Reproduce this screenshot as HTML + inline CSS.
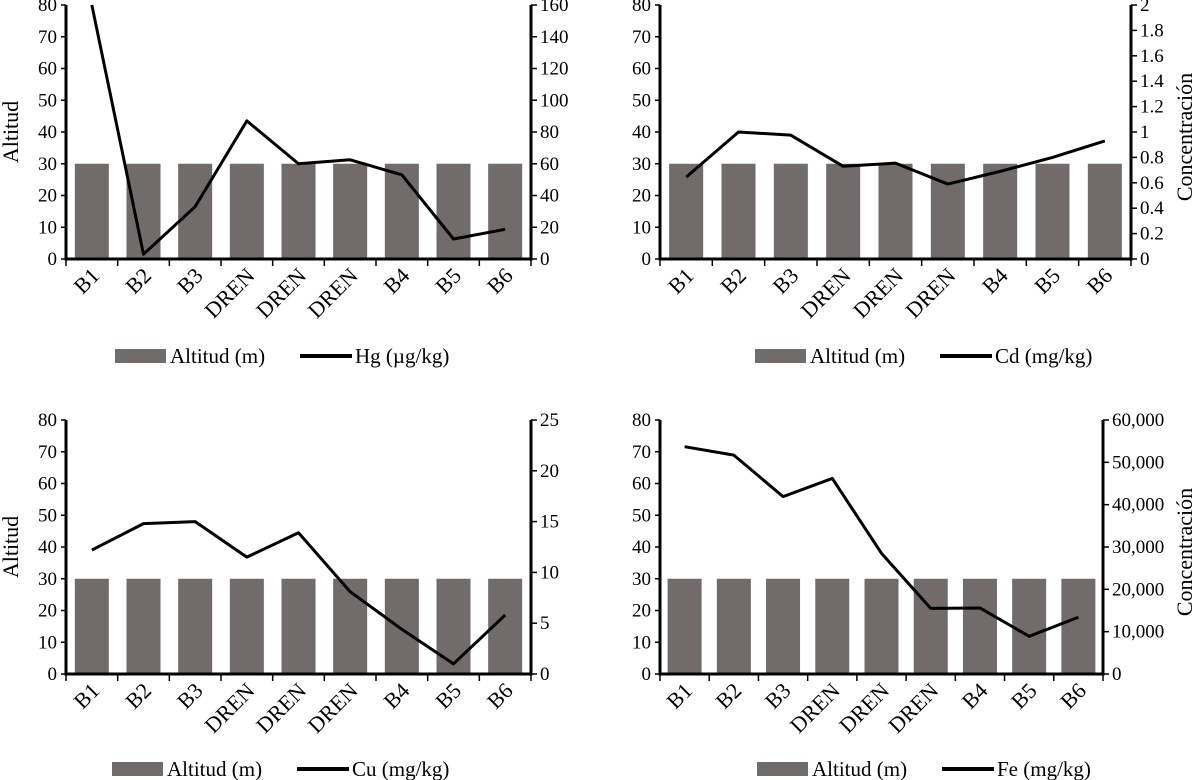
<!DOCTYPE html>
<html><head><meta charset="utf-8"><style>
html,body{margin:0;padding:0;background:#fff;}
svg{display:block;font-family:"Liberation Serif",serif;}
</style></head><body>
<svg id="root" width="1199" height="780" viewBox="0 0 1199 780"></svg>
<script>
const categories = ["B1","B2","B3","DREN","DREN","DREN","B4","B5","B6"];
const altitude = [30,30,30,30,30,30,30,30,30];
const hgValues = [160,3,33,87,60,62.5,53,12.6,18.7];
const cdValues = [0.645,1.0,0.975,0.73,0.755,0.59,0.69,0.8,0.93];
const cuValues = [12.2,14.8,15.0,11.5,13.9,8.1,4.4,1.0,5.8];
const feValues = [53700,51700,41900,46200,28500,15500,15600,8900,13400];
const leftTicks = [0,10,20,30,40,50,60,70,80];
const hgTicks = [0,20,40,60,80,100,120,140,160];
const cdTicks = [0,0.2,0.4,0.6,0.8,1,1.2,1.4,1.6,1.8,2];
const cdTickLabels = ["0","0.2","0.4","0.6","0.8","1","1.2","1.4","1.6","1.8","2"];
const cuTicks = [0,5,10,15,20,25];
const feTicks = [0,10000,20000,30000,40000,50000,60000];
const feTickLabels = ["0","10,000","20,000","30,000","40,000","50,000","60,000"];

const NS="http://www.w3.org/2000/svg";
const root=document.getElementById('root');
function mk(tag,attrs,parent){const e=document.createElementNS(NS,tag);for(const k in attrs)e.setAttribute(k,attrs[k]);(parent||root).appendChild(e);return e;}

function drawChart(cfg){
  const g=mk('g',{});
  
  
  const L=cfg.left,R=cfg.right,T=cfg.top,B=cfg.bottom;
  const n=categories.length,slot=(R-L)/n;
  const xC=i=>L+slot*(i+0.5);
  const yL=v=>B-(v/80)*(B-T);
  const yR=v=>B-(v/cfg.rmax)*(B-T);
  altitude.forEach((v,i)=>{
    const r=mk('rect',{x:xC(i)-17,y:yL(v),width:34,height:B-yL(v),fill:'#716b6b'},g);
    
    
  });
  const pts=cfg.values.map((v,i)=>xC(i)+','+yR(v)).join(' ');
  const pl=mk('polyline',{points:pts,fill:'none',stroke:'#000','stroke-width':3,'stroke-linejoin':'round'},g);
  
  
  const ax=mk('path',{d:`M${L},${T} V${B} H${R} V${T}`,fill:'none',stroke:'#000','stroke-width':3},g);
  
  
  leftTicks.forEach(t=>{
    mk('line',{x1:L-5,x2:L,y1:yL(t),y2:yL(t),stroke:'#000','stroke-width':1.5},g);
    const tx=mk('text',{x:L-9,y:yL(t)+6,'text-anchor':'end','font-size':19},g);
    tx.textContent=t;
    
    
  });
  cfg.rticks.forEach((t,k)=>{
    mk('line',{x1:R,x2:R+6,y1:yR(t),y2:yR(t),stroke:'#000','stroke-width':1.5},g);
    const tx=mk('text',{x:R+9,y:yR(t)+6,'font-size':19},g);
    tx.textContent=cfg.rlabels?cfg.rlabels[k]:t;
    
    
  });
  for(let i=0;i<=n;i++){
    mk('line',{x1:L+slot*i,x2:L+slot*i,y1:B,y2:B+7,stroke:'#000','stroke-width':1.5},g);
  }
  categories.forEach((c,i)=>{
    const x=xC(i)+9,y=B+18;
    const tx=mk('text',{x:x,y:y,'text-anchor':'end','font-size':22,transform:`rotate(-45 ${x} ${y})`},g);
    tx.textContent=c;
    
    
  });
  if(cfg.leftTitle){
    const tx=mk('text',{x:0,y:0,'text-anchor':'middle','font-size':22,transform:`translate(${L-48},${(T+B)/2}) rotate(-90)`},g);
    tx.textContent='Altitud';
    
    
  }
  if(cfg.rightTitle){
    const tx=mk('text',{x:0,y:0,'text-anchor':'middle','font-size':22,transform:`translate(${cfg.rtx},${(T+B)/2+5}) rotate(-90)`},g);
    tx.textContent='Concentración';
    
    
  }
  const ly=cfg.legendY;
  const sw=mk('rect',{x:cfg.legX,y:ly-7,width:51,height:14,fill:'#716b6b'},g);
  
  
  const t1=mk('text',{x:cfg.legX+55,y:ly+7,'font-size':21},g);
  t1.textContent='Altitud (m)';
  
  
  const ls=mk('line',{x1:cfg.legX+185,x2:cfg.legX+237,y1:ly,y2:ly,stroke:'#000','stroke-width':4},g);
  
  
  const t2=mk('text',{x:cfg.legX+240,y:ly+7,'font-size':21},g);
  t2.textContent=cfg.legendLabel;
  
  
}

drawChart({name:'hg-chart',left:66,right:531,top:5,bottom:259,values:hgValues,rmax:160,rticks:hgTicks,lineName:'hg-line',leftTitle:true,legendY:356,legX:115,legendLabel:'Hg (µg/kg)'});
drawChart({name:'cd-chart',left:660,right:1131,top:5,bottom:259,values:cdValues,rmax:2,rticks:cdTicks,rlabels:cdTickLabels,lineName:'cd-line',rightTitle:true,rtx:1192,legendY:356,legX:755,legendLabel:'Cd (mg/kg)'});
drawChart({name:'cu-chart',left:66,right:531,top:420,bottom:674,values:cuValues,rmax:25,rticks:cuTicks,lineName:'cu-line',leftTitle:true,legendY:769,legX:112,legendLabel:'Cu (mg/kg)'});
drawChart({name:'fe-chart',left:660,right:1103,top:420,bottom:674,values:feValues,rmax:60000,rticks:feTicks,rlabels:feTickLabels,lineName:'fe-line',rightTitle:true,rtx:1192,legendY:769,legX:757,legendLabel:'Fe (mg/kg)'});
</script>
</body></html>
